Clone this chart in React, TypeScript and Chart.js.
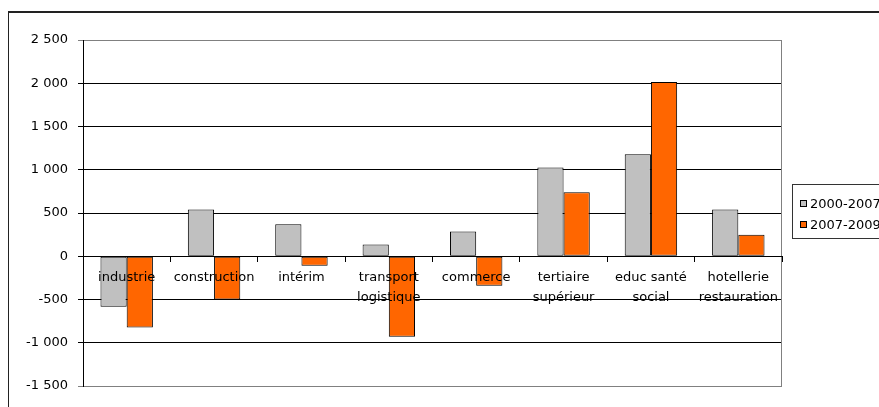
import React, { useEffect, useRef } from 'react';
import { Chart, registerables } from 'chart.js';

Chart.register(...registerables);

const categories: (string | string[])[] = [
  'industrie',
  'construction',
  'intérim',
  ['transport', 'logistique'],
  'commerce',
  ['tertiaire', 'supérieur'],
  ['educ santé', 'social'],
  ['hotellerie', 'restauration'],
];
const seriesLabels = ['2000-2007', '2007-2009'];
const values2000_2007 = [-585, 540, 370, 135, 285, 1025, 1180, 540];
const values2007_2009 = [-825, -500, -110, -930, -340, 740, 2015, 250];
const yMin = -1500;
const yMax = 2500;
const yStep = 500;

const FONT = 'DejaVu Sans';

function formatTick(v: number): string {
  const s = Math.abs(v).toString().replace(/\B(?=(\d{3})+(?!\d))/g, ' ');
  return (v < 0 ? '-' : '') + s;
}

const decorPlugin = {
  id: 'decor',
  beforeDraw(chart: any) {
    const ctx = chart.ctx;
    ctx.save();
    ctx.fillStyle = '#222';
    ctx.fillRect(8, 11, chart.width - 8, 2);
    ctx.fillRect(8, 11, 1, chart.height - 11);
    ctx.restore();
  },
  beforeDatasetsDraw(chart: any) {
    const { ctx, chartArea } = chart;
    ctx.save();
    ctx.strokeStyle = '#808080';
    ctx.lineWidth = 1;
    ctx.beginPath();
    ctx.moveTo(Math.round(chartArea.right) - 0.5, chartArea.top);
    ctx.lineTo(Math.round(chartArea.right) - 0.5, chartArea.bottom);
    ctx.stroke();
    ctx.restore();
  },
  afterDraw(chart: any) {
    const { ctx, chartArea } = chart;
    const midY = (chartArea.top + chartArea.bottom) / 2;
    const boxLeft = Math.round(chartArea.right) + 10;
    const boxTop = Math.round(midY - 29);
    ctx.save();
    ctx.strokeStyle = '#333';
    ctx.lineWidth = 1;
    ctx.strokeRect(boxLeft + 0.5, boxTop + 0.5, 200, 54);
    ctx.font = `13px "${FONT}"`;
    ctx.textBaseline = 'middle';
    ctx.textAlign = 'left';
    chart.data.datasets.forEach((ds: any, i: number) => {
      const y = Math.round(midY - 9 + i * 21);
      ctx.fillStyle = ds.backgroundColor;
      ctx.fillRect(boxLeft + 8, y - 3, 6, 6);
      ctx.strokeStyle = '#000';
      ctx.strokeRect(boxLeft + 8.5, y - 3.5, 6, 6);
      ctx.fillStyle = '#000';
      ctx.fillText(ds.label, boxLeft + 18, y + 1);
    });
    ctx.restore();
  },
};

export default function App() {
  const ref = useRef<HTMLCanvasElement>(null);
  useEffect(() => {
    if (!ref.current) return;
    const chart = new Chart(ref.current, {
      type: 'bar',
      data: {
        labels: categories as any,
        datasets: [
          {
            label: seriesLabels[0],
            data: values2000_2007,
            backgroundColor: '#C0C0C0',
            borderColor: '#000',
            borderWidth: 1,
            borderSkipped: false,
          },
          {
            label: seriesLabels[1],
            data: values2007_2009,
            backgroundColor: '#FF6600',
            borderColor: '#000',
            borderWidth: 1,
            borderSkipped: false,
          },
        ],
      },
      options: {
        responsive: false,
        animation: false,
        layout: { padding: { left: 0, right: 97, top: 40, bottom: 21 } },
        datasets: { bar: { categoryPercentage: 0.6, barPercentage: 1.0 } },
        plugins: { legend: { display: false }, tooltip: { enabled: false }, title: { display: false } },
        scales: {
          x: {
            position: { y: 0 } as any,
            offset: true,
            grid: {
              offset: true,
              drawOnChartArea: false,
              drawTicks: true,
              tickLength: 5,
              color: '#000',
              z: 1,
            } as any,
            border: { display: true, color: '#000', width: 1, z: 1 } as any,
            ticks: {
              z: 2,
              color: '#000',
              padding: 6,
              maxRotation: 0,
              autoSkip: false,
              font: { family: FONT, size: 13, lineHeight: '20px' as any },
            } as any,
          },
          y: {
            min: yMin,
            max: yMax,
            afterFit: (s: any) => {
              s.width = 83;
            },
            grid: {
              color: (c: any) => (c.tick && (c.tick.value === yMax || c.tick.value === yMin) ? '#808080' : '#000'),
              lineWidth: 1,
              drawTicks: true,
              tickLength: 5,
            },
            border: { display: true, color: '#000', width: 1 },
            ticks: {
              stepSize: yStep,
              color: '#000',
              padding: 10,
              font: { family: FONT, size: 13 },
              callback: (v: any) => formatTick(Number(v)),
            },
          },
        },
      },
      plugins: [decorPlugin],
    });
    return () => chart.destroy();
  }, []);
  return (
    <canvas
      ref={ref}
      width={879}
      height={407}
      style={{ position: 'absolute', left: 0, top: 0, width: 879, height: 407, display: 'block' }}
    />
  );
}
